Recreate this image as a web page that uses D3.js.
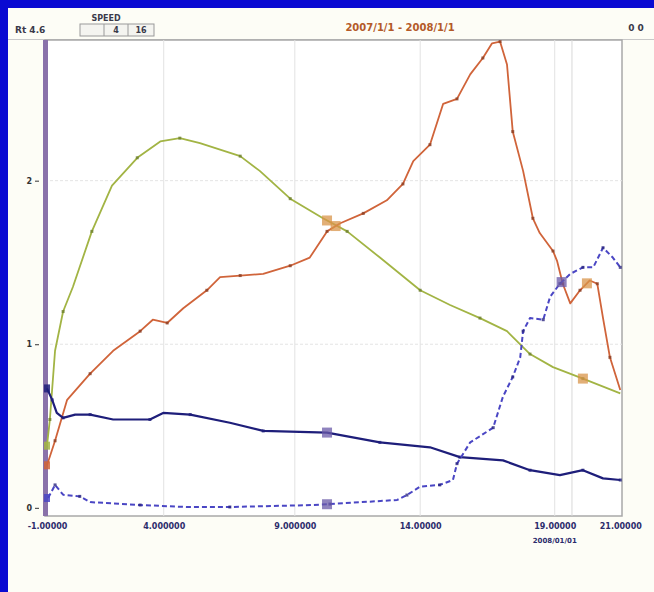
<!DOCTYPE html>
<html>
<head>
<meta charset="utf-8">
<script src="https://cdn.jsdelivr.net/npm/d3@7"></script>
<style>
  html, body { margin: 0; padding: 0; background: #fdfdf7; }
  svg { display: block; }
  text { font-family: "DejaVu Sans", sans-serif; }
</style>
</head>
<body>
<svg id="chart" width="654" height="592"></svg>
<script>
// ---- data ----
const titleText = "2007/1/1 - 2008/1/1";
const yTicks = [0, 1, 2];
const yTickLabels = ["0", "1", "2"];
const xTicks = [0, 20.3, 43.1, 64.9, 88.3, 99.7];
const xTickLabels = ["-1.00000", "4.000000", "9.000000", "14.00000", "19.00000", "21.00000"];
const xTickSubLabels = ["", "", "", "", "2008/01/01", ""];
const cursorLineX = 91.3;

// each series: [x, value]
const greenSeries = [
  [0, 0.38], [0.5, 0.54], [1.4, 0.96], [2.8, 1.2], [4.5, 1.35], [7.8, 1.69], [11.3, 1.97],
  [15.7, 2.14], [19.7, 2.24], [23.1, 2.26], [26.6, 2.23], [33.6, 2.15], [37.0, 2.06],
  [42.3, 1.89], [48.0, 1.77], [52.2, 1.69], [57.9, 1.53], [64.9, 1.33], [70.1, 1.24],
  [75.3, 1.16], [80.0, 1.08], [84.0, 0.94], [88.0, 0.86], [93.2, 0.79], [99.7, 0.70]
];
const redSeries = [
  [0, 0.26], [1.4, 0.41], [3.5, 0.66], [7.5, 0.82], [11.5, 0.96], [16.2, 1.08], [18.4, 1.15],
  [20.9, 1.13], [23.7, 1.22], [27.8, 1.33], [30.1, 1.41], [33.6, 1.42], [37.6, 1.43],
  [42.3, 1.48], [45.7, 1.53], [48.7, 1.69], [51.0, 1.74], [55.0, 1.80], [59.1, 1.88],
  [61.9, 1.98], [63.7, 2.12], [66.6, 2.22], [68.9, 2.47], [71.3, 2.50], [73.6, 2.65],
  [75.8, 2.75], [77.4, 2.84], [78.8, 2.85], [80.0, 2.71], [81.0, 2.30], [82.8, 2.06],
  [84.5, 1.77], [85.7, 1.68], [88.0, 1.57], [88.7, 1.51], [89.7, 1.37], [91.0, 1.25],
  [92.7, 1.33], [94.4, 1.39], [95.7, 1.37], [96.7, 1.16], [97.9, 0.92], [99.7, 0.72]
];
const navySeries = [
  [0, 0.73], [0.9, 0.66], [1.7, 0.58], [2.8, 0.55], [4.9, 0.57], [7.5, 0.57], [11.5, 0.54],
  [17.9, 0.54], [20.2, 0.58], [24.9, 0.57], [31.8, 0.52], [37.6, 0.47], [48.7, 0.46],
  [57.9, 0.40], [66.6, 0.37], [71.8, 0.31], [79.3, 0.29], [84.0, 0.23], [89.2, 0.20],
  [93.2, 0.23], [96.7, 0.18], [99.7, 0.17]
];
const dashSeries = [
  [0.2, 0.06], [1.4, 0.14], [2.8, 0.08], [5.7, 0.07], [7.5, 0.035], [16.2, 0.017],
  [24.3, 0.005], [31.8, 0.005], [46.3, 0.017], [49.2, 0.023], [60.9, 0.048], [62.6, 0.078],
  [64.9, 0.13], [68.3, 0.14], [70.6, 0.17], [71.3, 0.27], [73.6, 0.40], [77.6, 0.49],
  [79.3, 0.68], [81.0, 0.80], [82.3, 0.92], [82.8, 1.08], [84.0, 1.16], [86.3, 1.15],
  [87.5, 1.29], [89.2, 1.37], [91.0, 1.43], [93.2, 1.47], [95.0, 1.47], [96.7, 1.59],
  [98.4, 1.53], [99.7, 1.47]
];
// cursor readouts: series name and x position
const cursorMarks = [
  { s: "green", x: 48.7 }, { s: "red", x: 50.2 }, { s: "navy", x: 48.7 }, { s: "dash", x: 48.7 },
  { s: "green", x: 93.2 }, { s: "red", x: 93.9 }, { s: "dash", x: 89.5 }
];

// ---- layout ----
const svg = d3.select("#chart");
const W = 654, H = 592;
const plot = { left: 45, right: 622, top: 40, bottom: 516 };

const x = d3.scaleLinear().domain([0, 100]).range([plot.left + 2, plot.right]);
const y = d3.scaleLinear().domain([-0.05, 2.86]).range([plot.bottom, plot.top]);

// window background and blue frame
svg.append("rect").attr("width", W).attr("height", H).attr("fill", "#fdfdf6");
svg.append("rect").attr("x", 0).attr("y", 0).attr("width", W).attr("height", 8).attr("fill", "#0a0ad2");
svg.append("rect").attr("x", 0).attr("y", 0).attr("width", 8).attr("height", H).attr("fill", "#0a0ad2");

// header
svg.append("line").attr("x1", 8).attr("x2", W).attr("y1", 39.5).attr("y2", 39.5)
  .attr("stroke", "#c8c8c8").attr("stroke-width", 1);
svg.append("text").attr("x", 15).attr("y", 33).attr("font-size", 9).attr("font-weight", "bold")
  .attr("fill", "#3a3a4a").text("Rt  4.6");
const wid = svg.append("g");
wid.append("rect").attr("x", 80).attr("y", 24).attr("width", 74).attr("height", 12)
  .attr("fill", "#f4f4f0").attr("stroke", "#9a9a9a");
wid.append("line").attr("x1", 104).attr("x2", 104).attr("y1", 24).attr("y2", 36).attr("stroke", "#9a9a9a");
wid.append("line").attr("x1", 128).attr("x2", 128).attr("y1", 24).attr("y2", 36).attr("stroke", "#9a9a9a");
wid.append("text").attr("x", 106).attr("y", 21).attr("text-anchor", "middle").attr("font-size", 8)
  .attr("font-weight", "bold").attr("fill", "#3a3a4a").text("SPEED");
wid.append("text").attr("x", 116).attr("y", 33).attr("text-anchor", "middle").attr("font-size", 8)
  .attr("font-weight", "bold").attr("fill", "#3a3a4a").text("4");
wid.append("text").attr("x", 141).attr("y", 33).attr("text-anchor", "middle").attr("font-size", 8)
  .attr("font-weight", "bold").attr("fill", "#3a3a4a").text("16");
svg.append("text").attr("x", 400).attr("y", 31).attr("text-anchor", "middle").attr("font-size", 10)
  .attr("font-weight", "bold").attr("fill", "#b45a28").text(titleText);
svg.append("text").attr("x", 636).attr("y", 31).attr("text-anchor", "middle").attr("font-size", 9)
  .attr("font-weight", "bold").attr("fill", "#3a3a4a").text("0  0");

// plot area
svg.append("rect").attr("x", plot.left).attr("y", plot.top)
  .attr("width", plot.right - plot.left).attr("height", plot.bottom - plot.top)
  .attr("fill", "#ffffff").attr("stroke", "#a8a8a8").attr("stroke-width", 1.5);

// grid
const grid = svg.append("g");
grid.selectAll("line.v").data(xTicks.slice(1, -1)).join("line")
  .attr("x1", d => x(d)).attr("x2", d => x(d)).attr("y1", plot.top).attr("y2", plot.bottom)
  .attr("stroke", "#e2e2e2").attr("stroke-width", 1);
grid.append("line").attr("x1", x(cursorLineX)).attr("x2", x(cursorLineX))
  .attr("y1", plot.top).attr("y2", plot.bottom).attr("stroke", "#d8d8d8");
grid.selectAll("line.h").data(yTicks.slice(1)).join("line")
  .attr("x1", plot.left).attr("x2", plot.right).attr("y1", d => y(d)).attr("y2", d => y(d))
  .attr("stroke", "#e4e4e4").attr("stroke-width", 1).attr("stroke-dasharray", "3,2");

// y axis: thick purple bar with small labels
svg.append("rect").attr("x", 43).attr("y", plot.top).attr("width", 5).attr("height", plot.bottom - plot.top)
  .attr("fill", "#8a72aa");
const yAxis = d3.axisLeft(y).tickValues(yTicks).tickFormat((d, i) => yTickLabels[i]).tickSize(4);
svg.append("g").attr("transform", `translate(${plot.left - 6},0)`).call(yAxis)
  .call(g => g.select(".domain").remove())
  .call(g => g.selectAll("line").attr("stroke", "#333"))
  .call(g => g.selectAll("text").attr("font-size", 8).attr("font-weight", "bold").attr("fill", "#333"));

// x axis labels
const xAxis = d3.axisBottom(x).tickValues(xTicks).tickFormat((d, i) => xTickLabels[i]).tickSize(0);
svg.append("g").attr("transform", `translate(0,${plot.bottom + 4})`).call(xAxis)
  .call(g => g.select(".domain").remove())
  .call(g => g.selectAll("text").attr("font-size", 8).attr("font-weight", "bold").attr("fill", "#2c2c6c"));
svg.append("g").selectAll("text").data(xTicks).join("text")
  .attr("x", d => x(d)).attr("y", plot.bottom + 27).attr("text-anchor", "middle")
  .attr("font-size", 7).attr("font-weight", "bold").attr("fill", "#2c2c6c")
  .text((d, i) => xTickSubLabels[i]);

// series
const line = d3.line().x(d => x(d[0])).y(d => y(d[1]));
const seriesDefs = {
  green: { data: greenSeries, color: "#a2b444", mark: "#6e8030", width: 1.8, dash: null },
  red:   { data: redSeries,   color: "#d0643a", mark: "#8a3e24", width: 1.8, dash: null },
  navy:  { data: navySeries,  color: "#1e1e7a", mark: "#1e1e7a", width: 2.2, dash: null },
  dash:  { data: dashSeries,  color: "#4a46c4", mark: "#2a2680", width: 2, dash: "5,3" }
};
const clip = svg.append("clipPath").attr("id", "plotclip").append("rect")
  .attr("x", plot.left).attr("y", plot.top - 2).attr("width", plot.right - plot.left).attr("height", plot.bottom - plot.top + 2);
const lines = svg.append("g").attr("clip-path", "url(#plotclip)");
["green", "red", "navy", "dash"].forEach(k => {
  const s = seriesDefs[k];
  lines.append("path").datum(s.data).attr("d", line).attr("fill", "none")
    .attr("stroke", s.color).attr("stroke-width", s.width)
    .attr("stroke-dasharray", s.dash).attr("stroke-linejoin", "round");
  lines.append("g").selectAll("rect").data(s.data.filter((d, i) => i % 2 === 1)).join("rect")
    .attr("x", d => x(d[0]) - 1.5).attr("y", d => y(d[1]) - 1.5)
    .attr("width", 3).attr("height", 3).attr("fill", s.mark).attr("opacity", 0.8);
});

// cursor readout squares, placed on the series by interpolation
function valueAt(data, xv) {
  const i = d3.bisector(d => d[0]).left(data, xv);
  if (i <= 0) return data[0][1];
  if (i >= data.length) return data[data.length - 1][1];
  const a = data[i - 1], b = data[i];
  return a[1] + (b[1] - a[1]) * (xv - a[0]) / (b[0] - a[0]);
}
lines.append("g").selectAll("rect").data(cursorMarks).join("rect")
  .attr("x", d => x(d.x) - 5).attr("y", d => y(valueAt(seriesDefs[d.s].data, d.x)) - 5)
  .attr("width", 10).attr("height", 10)
  .attr("fill", d => d.s === "dash" || d.s === "navy" ? "#6a5aa8" : "#d8944a")
  .attr("opacity", 0.75);

// series start markers along the axis
svg.append("g").selectAll("rect").data(["navy", "green", "red", "dash"]).join("rect")
  .attr("x", 44).attr("y", k => y(seriesDefs[k].data[0][1]) - 4)
  .attr("width", 6).attr("height", 8).attr("fill", k => seriesDefs[k].color).attr("opacity", 0.85);
</script>
</body>
</html>
